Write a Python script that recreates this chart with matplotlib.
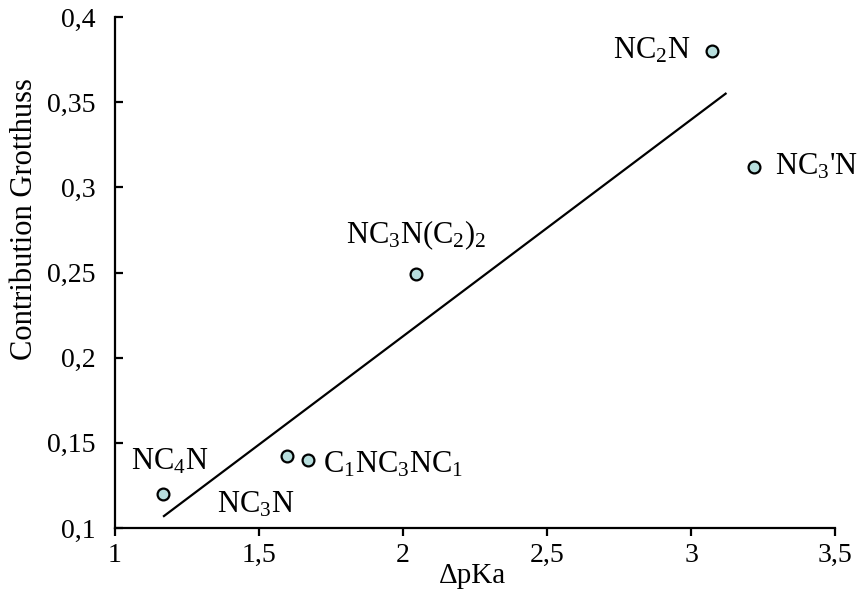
import numpy as np
import matplotlib
matplotlib.use("Agg")
import matplotlib.pyplot as plt

plt.rcParams['font.family'] = 'Liberation Serif'
plt.rcParams['mathtext.default'] = 'regular'

# donnees
dpka = [1.167, 1.597, 1.67, 2.045, 3.073, 3.219]
grotthuss = [0.120, 0.142, 0.140, 0.249, 0.380, 0.312]
noms = ['NC$_4$N', 'NC$_3$N', 'C$_1$NC$_3$NC$_1$', 'NC$_3$N(C$_2$)$_2$',
        'NC$_2$N', "NC$_3$'N"]

# droite de tendance
trend_x = [1.17, 3.12]
trend_y = [0.107, 0.355]

x_ticks = [1, 1.5, 2, 2.5, 3, 3.5]
x_labels = ['1', '1,5', '2', '2,5', '3', '3,5']
y_ticks = [0.1, 0.15, 0.2, 0.25, 0.3, 0.35, 0.4]
y_labels = ['0,1', '0,15', '0,2', '0,25', '0,3', '0,35', '0,4']

fig = plt.figure(figsize=(8.6, 5.89), dpi=100)
ax = fig.add_axes([0.1337, 0.1036, 0.8373, 0.8675])

ax.plot(trend_x, trend_y, color='black', lw=1.6)
ax.plot(dpka, grotthuss, 'o', ms=8.5, mfc='#b7dedd', mec='black', mew=1.6,
        zorder=3)

# position des etiquettes (decalage en pixels)
decal = [(7, 32, 'center'), (-31, -48, 'center'), (15, -5, 'left'),
         (0, 39, 'center'), (-22, 0, 'right'), (21, 0, 'left')]
for xi, yi, nom, (dx, dy, ha) in zip(dpka, grotthuss, noms, decal):
    ax.annotate(nom, (xi, yi), xytext=(dx, dy), textcoords='offset pixels',
                ha=ha, va='center', fontsize=22)

ax.set_xlim(1, 3.5)
ax.set_ylim(0.1, 0.4)
ax.set_xticks(x_ticks)
ax.set_xticklabels(x_labels, fontsize=20)
ax.set_yticks(y_ticks)
ax.set_yticklabels(y_labels, fontsize=20)
ax.tick_params(axis='x', direction='out', length=6, width=1.6, pad=5)
ax.tick_params(axis='y', direction='in', length=6, width=1.6, pad=14)

for s in ['top', 'right']:
    ax.spines[s].set_visible(False)
for s in ['left', 'bottom']:
    ax.spines[s].set_linewidth(1.6)

ax.set_xlabel('ΔpKa', fontsize=21)
ax.xaxis.set_label_coords(0.497, -0.068)
ax.set_ylabel('Contribution Grotthuss', fontsize=22)
ax.yaxis.set_label_coords(-0.105, 0.605)

fig.savefig('out.png', dpi=100)
